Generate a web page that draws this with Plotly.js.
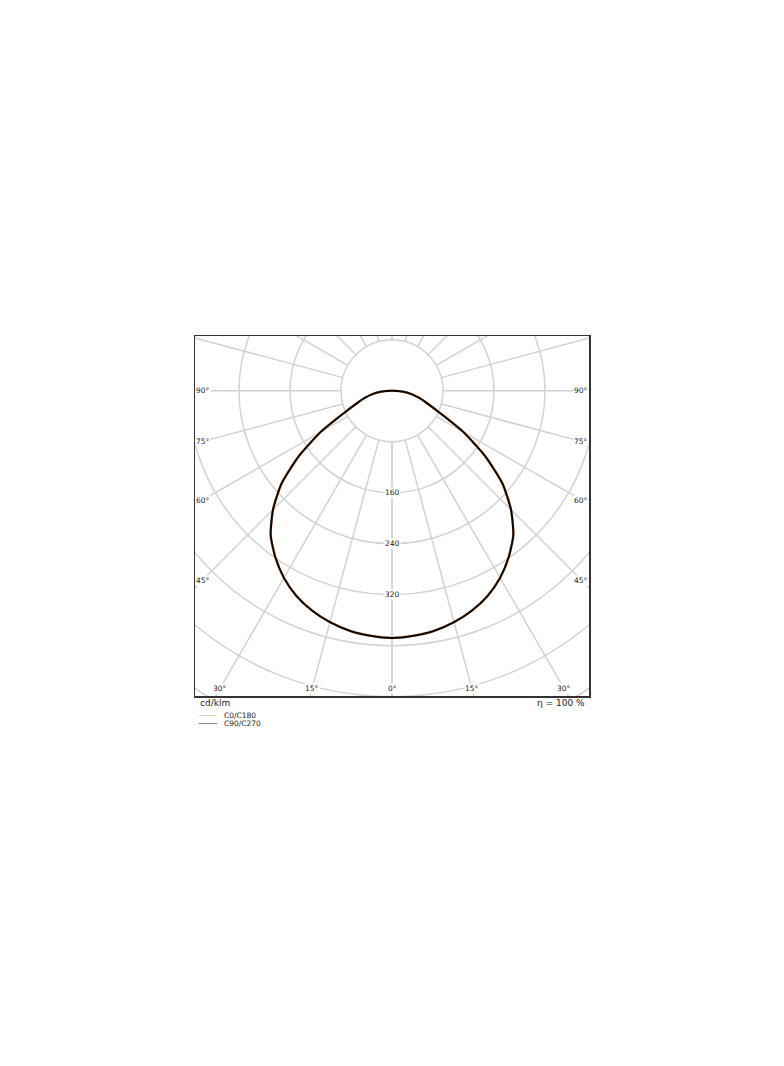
<!DOCTYPE html>
<html>
<head>
<meta charset="utf-8">
<script src="https://cdn.plot.ly/plotly-3.0.1.min.js"></script>
<style>
html,body{margin:0;padding:0;background:#fff}
#chart{width:784px;height:1066px}
</style>
</head>
<body>
<div id="chart"></div>
<script>
// luminous intensity, gamma in degrees from nadir, values in cd/klm
const gamma   = [0, 5, 10, 15, 20, 25, 30, 35, 40, 45, 50, 55, 60, 65, 70, 75, 80, 85, 90];
const c0c180  = [388, 386, 382.5, 376, 367, 355, 339, 319, 296, 264, 226, 178, 129, 84, 60, 45, 32, 18, 0];
const c90c270 = [388, 386, 382.5, 376, 367, 355, 339, 319, 296, 264, 226, 178, 129, 84, 60, 45, 32, 18, 0];

const rings       = [80, 160, 240, 320, 400, 480, 560, 640];
const ringLabels  = [160, 240, 320];
const rayAngles   = [0, 15, 30, 45, 60, 75, 90, 105, 120, 135, 150, 165, 180];
const angleLabels = [0, 15, 30, 45, 60, 75, 90];
const seriesNames = ['C0/C180', 'C90/C270'];
const unitText = 'cd/klm';
const etaText  = 'η = 100 %';

const xRange = [-309, 309];
const yRange = [-479, 86];
const FONT = 'DejaVu Sans, sans-serif';
const GRID = '#d2d2d2';

// plot area in page pixels, used for the bits outside the frame
const L = 195, T = 336, W = 394, H = 360;
function pxX(px){ return (px - L) / W; }
function pxY(py){ return (T + H - py) / H; }

const rad = d => d * Math.PI / 180;

// whole curve, left half from 90 down to 0 then right half back up to 90
function curve(vals){
    let xs = [], ys = [];
    for(let i = gamma.length - 1; i >= 0; i--){
        xs.push(-vals[i] * Math.sin(rad(gamma[i])));
        ys.push(-vals[i] * Math.cos(rad(gamma[i])));
    }
    for(let i = 1; i < gamma.length; i++){
        xs.push(vals[i] * Math.sin(rad(gamma[i])));
        ys.push(-vals[i] * Math.cos(rad(gamma[i])));
    }
    return {x: xs, y: ys};
}

let shapes = [];
rings.forEach(r => {
    shapes.push({type: 'circle', xref: 'x', yref: 'y', x0: -r, x1: r, y0: -r, y1: r,
                 line: {color: GRID, width: 1.5}, layer: 'below'});
});
rayAngles.forEach(a => {
    [1, -1].forEach(s => {
        let sx = s * Math.sin(rad(a)), sy = -Math.cos(rad(a));
        shapes.push({type: 'line', xref: 'x', yref: 'y',
                     x0: sx * rings[0], y0: sy * rings[0], x1: sx * 800, y1: sy * 800,
                     line: {color: GRID, width: 1.5}, layer: 'below'});
    });
});

let annotations = [];
const small = {family: FONT, size: 7.5, color: '#222'};

ringLabels.forEach(v => {
    annotations.push({x: 0, y: -v, xref: 'x', yref: 'y', text: String(v), showarrow: false,
                      bgcolor: 'white', borderpad: 0, font: small});
});

// angle labels go on the side where the ray leaves the frame
angleLabels.forEach(a => {
    let hitsSide = a > 0 && xRange[1] / Math.tan(rad(a)) <= -yRange[0];
    if(hitsSide){
        let y = -(xRange[1] - 11) / Math.tan(rad(a));
        annotations.push({x: xRange[0], y: y, xref: 'x', yref: 'y', xanchor: 'left', text: a + '°',
                          showarrow: false, bgcolor: 'white', borderpad: 0, font: small});
        annotations.push({x: xRange[1], y: y, xref: 'x', yref: 'y', xanchor: 'right', text: a + '°',
                          showarrow: false, bgcolor: 'white', borderpad: 0, font: small});
    }else{
        let y = yRange[0] + 12.5;
        let sides = a === 0 ? [1] : [-1, 1];
        sides.forEach(s => {
            annotations.push({x: s * (-y) * Math.tan(rad(a)), y: y, xref: 'x', yref: 'y',
                              text: a + '°', showarrow: false, bgcolor: 'white', borderpad: 0, font: small});
        });
    }
});

annotations.push({x: pxX(198), y: pxY(702.5), xref: 'paper', yref: 'paper', xanchor: 'left', yanchor: 'middle',
                  text: unitText, showarrow: false, font: {family: FONT, size: 9, color: '#222'}});
annotations.push({x: pxX(587), y: pxY(702.5), xref: 'paper', yref: 'paper', xanchor: 'right', yanchor: 'middle',
                  text: etaText, showarrow: false, font: {family: FONT, size: 9, color: '#222'}});

// hand made legend under the frame
const legendRows = [715.5, 723.5];
const legendColors = ['#f3cfae', '#8a8a8a'];
seriesNames.forEach((name, i) => {
    shapes.push({type: 'line', xref: 'paper', yref: 'paper',
                 x0: pxX(199), x1: pxX(217), y0: pxY(legendRows[i]), y1: pxY(legendRows[i]),
                 line: {color: legendColors[i], width: 1}});
    annotations.push({x: pxX(222), y: pxY(legendRows[i]), xref: 'paper', yref: 'paper',
                      xanchor: 'left', yanchor: 'middle', text: name, showarrow: false, font: small});
});

let p0 = curve(c0c180), p90 = curve(c90c270);
let data = [
    {x: p0.x, y: p0.y, name: seriesNames[0], type: 'scatter', mode: 'lines',
     line: {color: '#e0a070', width: 2.6, shape: 'spline', smoothing: 0.6}},
    {x: p90.x, y: p90.y, name: seriesNames[1], type: 'scatter', mode: 'lines',
     line: {color: '#0a0500', width: 2, shape: 'spline', smoothing: 0.6}}
];

let axis = {showgrid: false, zeroline: false, showticklabels: false, ticks: '',
            showline: true, mirror: true, linecolor: '#333', linewidth: 1.5, fixedrange: true};

let layout = {
    width: 784, height: 1066,
    margin: {l: L, r: 784 - L - W, t: T, b: 1066 - T - H, pad: 0},
    paper_bgcolor: 'white', plot_bgcolor: 'white',
    showlegend: false,
    font: {family: FONT},
    xaxis: Object.assign({range: xRange}, axis),
    yaxis: Object.assign({range: yRange}, axis),
    shapes: shapes,
    annotations: annotations
};

Plotly.newPlot('chart', data, layout, {staticPlot: true, displayModeBar: false});
</script>
</body>
</html>
